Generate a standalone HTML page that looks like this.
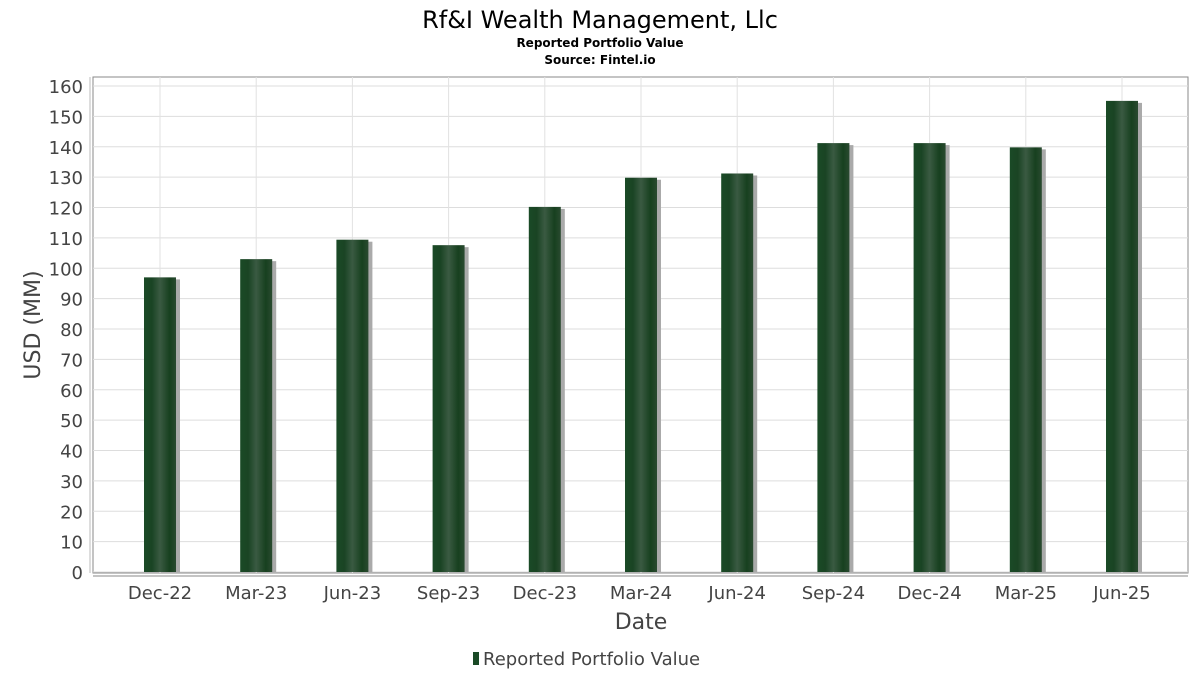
<!DOCTYPE html>
<html><head><meta charset="utf-8"><style>
body{margin:0;background:#fff;font-family:"DejaVu Sans","Liberation Sans",sans-serif;}
</style></head><body>
<svg width="1200" height="675" viewBox="0 0 1200 675" xmlns="http://www.w3.org/2000/svg">
<defs>
<linearGradient id="bg" x1="0" x2="1" y1="0" y2="0">
<stop offset="0" stop-color="#1a4a26"/><stop offset="0.25" stop-color="#1a4424"/>
<stop offset="0.5" stop-color="#3a5a42"/><stop offset="0.8" stop-color="#17401f"/>
<stop offset="1" stop-color="#2a4a30"/></linearGradient>
</defs>
<text x="600" y="28" text-anchor="middle" font-size="24" fill="#000">Rf&amp;I Wealth Management, Llc</text>
<text x="600" y="47" text-anchor="middle" font-size="12" font-weight="bold" fill="#000">Reported Portfolio Value</text>
<text x="600" y="64" text-anchor="middle" font-size="12" font-weight="bold" fill="#000">Source: Fintel.io</text>
<rect x="93" y="77" width="1095" height="496" fill="#fff" stroke="#888"/>
<g id="grid"></g><g id="yt"></g><g id="bars"></g><g id="xt"></g>
<line x1="93" y1="576" x2="1188" y2="576" stroke="#888"/>
<line x1="90" y1="77" x2="90" y2="573" stroke="#bbb"/>
<text x="40" y="325" text-anchor="middle" font-size="22" fill="#444" transform="rotate(-90 40 325)">USD (MM)</text>
<text x="641" y="629" text-anchor="middle" font-size="22" fill="#444">Date</text>
<g>
<rect x="473" y="652" width="6" height="13" fill="#1a4a26"/>
<text x="483" y="665" font-size="18" fill="#444">Reported Portfolio Value</text>
</g>
</svg>
<script>
const categories=["Dec-22","Mar-23","Jun-23","Sep-23","Dec-23","Mar-24","Jun-24","Sep-24","Dec-24","Mar-25","Jun-25"];
const values=[97,103,109.4,107.6,120.2,129.8,131.2,141.2,141.2,139.8,155.1];
const yTicks=[0,10,20,30,40,50,60,70,80,90,100,110,120,130,140,150,160];
const NS="http://www.w3.org/2000/svg";
const y=v=>572-v*3.0375;
const x=i=>160+i*96.2;
function mk(t,a,p){const e=document.createElementNS(NS,t);for(const k in a)e.setAttribute(k,a[k]);p.appendChild(e);return e;}
const grid=document.getElementById('grid'),yt=document.getElementById('yt'),bars=document.getElementById('bars'),xt=document.getElementById('xt');
yTicks.forEach(v=>{
const g=mk('line',{x1:93,x2:1188,y1:y(v),y2:y(v),stroke:'#ddd'},grid);


const t=mk('text',{x:83,y:y(v)+7,'text-anchor':'end','font-size':18,fill:'#444'},yt);
t.textContent=v;


});
categories.forEach((c,i)=>{
const gl=mk('line',{x1:x(i),x2:x(i),y1:77,y2:573,stroke:'#e2e2e2'},grid);


const s=mk('rect',{x:x(i)-12,y:y(values[i])+2,width:32,height:572-y(values[i])-2,fill:'#aaa'},bars);


const b=mk('rect',{x:x(i)-16,y:y(values[i]),width:32,height:572-y(values[i]),fill:'url(#bg)'},bars);


const t=mk('text',{x:x(i),y:599,'text-anchor':'middle','font-size':18,fill:'#444'},xt);
t.textContent=c;


});
</script>
</body></html>
